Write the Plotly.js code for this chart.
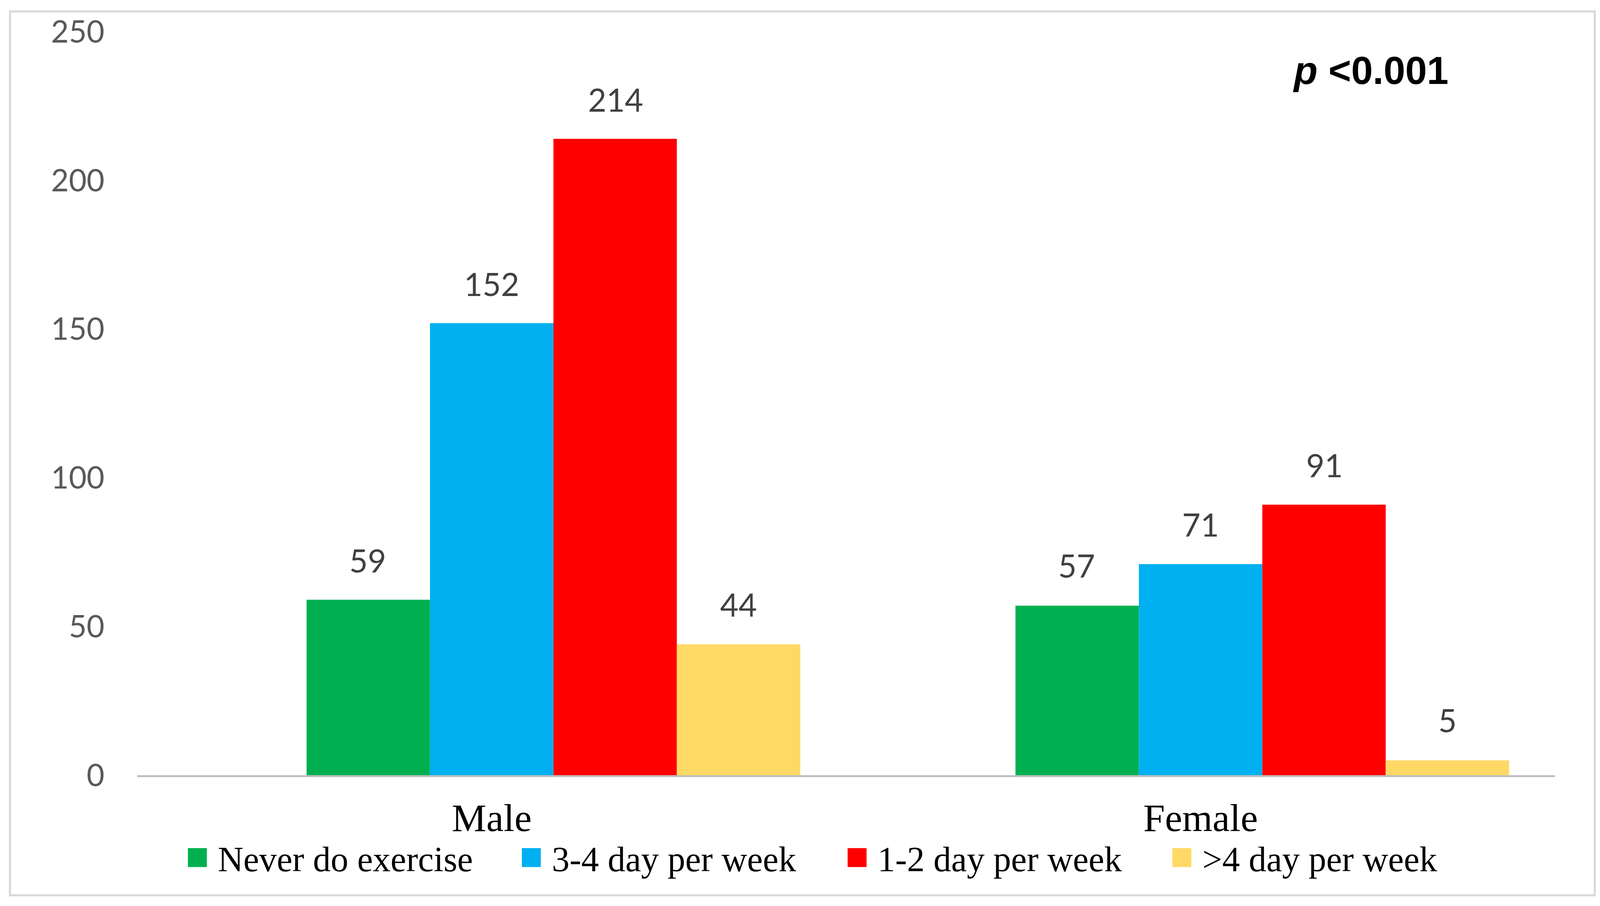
<!DOCTYPE html>
<html><head><meta charset="utf-8">
<script src="https://cdn.plot.ly/plotly-3.0.1.min.js"></script>
<style>
html,body{margin:0;padding:0;background:#fff;width:4112px;height:2320px;overflow:hidden;}
#outer{position:relative;width:4112px;height:2320px;overflow:visible;}
#wrap{position:absolute;left:0;top:0;width:1568px;height:885px;transform:scale(2.622449);transform-origin:0 0;}
</style></head><body>
<div id="outer"><div id="wrap"><div id="chart"></div></div></div>
<script>
// ---- data ----
const categories = ['Male', 'Female'];
const seriesNames = ['Never do exercise', '3-4 day per week', '1-2 day per week', '&gt;4 day per week'];
const neverExercise = [59, 57];
const days3to4 = [152, 71];
const days1to2 = [214, 91];
const daysOver4 = [44, 5];
const yTickValues = [0, 50, 100, 150, 200, 250];
const pValueText = '<b><i>p</i> &lt;0.001</b>';

// ---- styling ----
const seriesValues = [neverExercise, days3to4, days1to2, daysOver4];
const colors = ['#00B050', '#00B0F0', '#FF0000', '#FFD966'];
const legendWidths = [281, 273, 272, 272];
const W = 1568, H = 885;
const M = {l: 133.8, r: 49.6, t: 30.9, b: 128.4};
const plotW = W - M.l - M.r, plotH = H - M.t - M.b;
const catW = plotW / categories.length;
// the original reserves 5 bar slots per category, the first one empty
const slotCount = 5, slotW = 0.1741;
const offsets = seriesValues.map((_, i) => -slotCount * slotW / 2 + (i + 1) * slotW);
const px2paperX = px => (px - M.l) / plotW;
const px2paperY = py => (H - M.b - py) / plotH;

const traces = [];
seriesValues.forEach((vals, i) => {
  traces.push({
    type: 'bar', x: categories, y: vals, name: seriesNames[i],
    width: slotW, offset: offsets[i],
    marker: {color: colors[i]}, showlegend: false, hoverinfo: 'none'
  });
});
seriesValues.forEach((vals, i) => {
  traces.push({
    type: 'scatter', mode: 'markers', x: [null], y: [null], name: seriesNames[i],
    marker: {symbol: 'square', size: 16, color: colors[i], line: {width: 2.5, color: colors[i]}},
    legendwidth: legendWidths[i], hoverinfo: 'none'
  });
});

const annotations = [];
seriesValues.forEach((vals, i) => {
  vals.forEach((v, j) => {
    annotations.push({
      x: categories[j], y: v, xref: 'x', yref: 'y', text: String(v), showarrow: false,
      xanchor: 'center', yanchor: 'bottom',
      xshift: (offsets[i] + slotW / 2) * catW, yshift: 18,
      font: {family: 'Lato', size: 31, color: '#404040'}
    });
  });
});
annotations.push({
  x: px2paperX(1416), y: px2paperY(68.5), xref: 'paper', yref: 'paper',
  xanchor: 'right', yanchor: 'middle', showarrow: false, text: pValueText,
  font: {family: 'Liberation Sans', size: 38, color: '#000000'}
});

const layout = {
  width: W, height: H, margin: M,
  paper_bgcolor: '#ffffff', plot_bgcolor: '#ffffff',
  barmode: 'group',
  showlegend: true,
  legend: {
    orientation: 'h', x: px2paperX(172.5), xanchor: 'left',
    y: px2paperY(837), yanchor: 'middle',
    font: {family: 'Liberation Serif', size: 34.5, color: '#000000'},
    bgcolor: 'rgba(0,0,0,0)', itemwidth: 30, traceorder: 'normal'
  },
  xaxis: {
    type: 'category', showgrid: false, zeroline: false,
    showline: true, linecolor: '#bfbfbf', linewidth: 1.9,
    ticks: '', ticklabelstandoff: 7,
    tickfont: {family: 'Liberation Serif', size: 38, color: '#000000'}
  },
  yaxis: {
    range: [0, 250], tickvals: yTickValues, showgrid: false, zeroline: false,
    showline: false, ticks: '', ticklabelstandoff: 31,
    tickfont: {family: 'Lato', size: 30, color: '#595959'}
  },
  annotations: annotations,
  shapes: [{
    type: 'rect', xref: 'paper', yref: 'paper',
    x0: px2paperX(9.5), x1: px2paperX(1557.2),
    y0: px2paperY(873.7), y1: px2paperY(11.1),
    line: {color: '#d9d9d9', width: 2.1}, fillcolor: 'rgba(0,0,0,0)', layer: 'above'
  }]
};

Plotly.newPlot('chart', traces, layout, {staticPlot: true, displayModeBar: false, responsive: false});
</script>
</body></html>
